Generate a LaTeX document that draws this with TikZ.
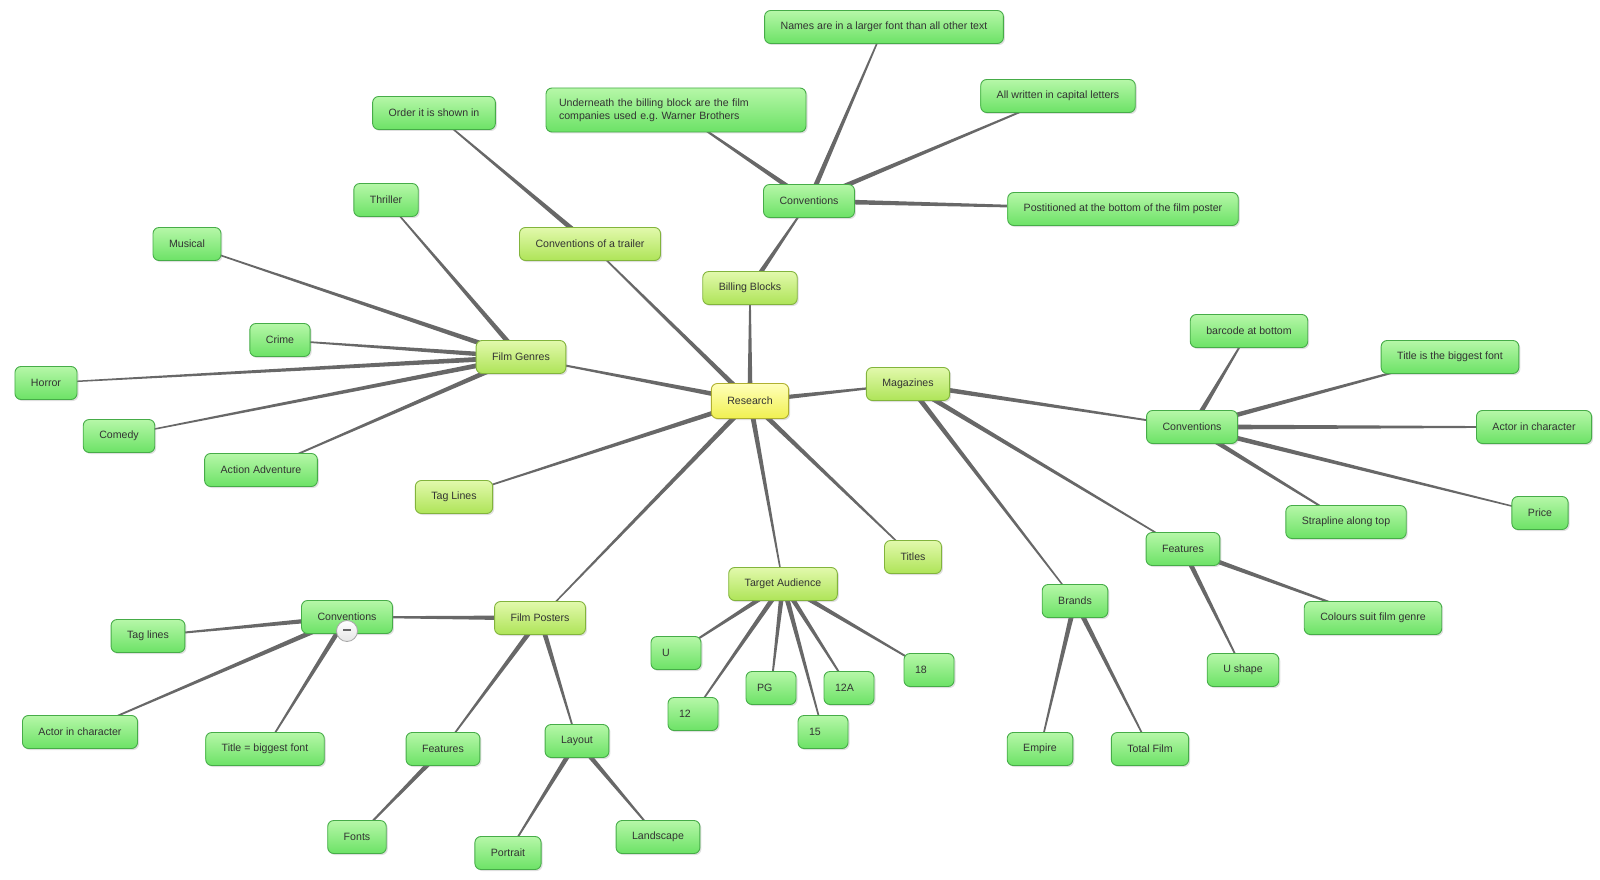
\documentclass[tikz,border=0pt]{standalone}
\usepackage{fontspec}
\setmainfont{Liberation Sans}
\usetikzlibrary{calc,shadows,backgrounds}

\definecolor{edgegray}{RGB}{104,104,104}
\definecolor{roottop}{RGB}{255,255,185}
\definecolor{rootbot}{RGB}{240,240,80}
\definecolor{rootline}{RGB}{176,176,48}
\definecolor{topictop}{RGB}{226,249,172}
\definecolor{topicbot}{RGB}{174,228,88}
\definecolor{topicline}{RGB}{130,180,60}
\definecolor{leaftop}{RGB}{182,247,168}
\definecolor{leafbot}{RGB}{108,226,102}
\definecolor{leafline}{RGB}{70,172,72}

\begin{document}
\begin{tikzpicture}[
  x=1pt, y=-1pt,
  every node/.style={font=\fontsize{10.6}{13}\selectfont, text=black!80},
  basebox/.style={rectangle, rounded corners=6pt, minimum height=33pt, inner xsep=16pt, inner ysep=2pt, line width=0.9pt,
    drop shadow={opacity=0.25, shadow xshift=1.5pt, shadow yshift=-1.5pt}},
  root/.style={basebox, minimum height=35pt, draw=rootline, top color=roottop, bottom color=rootbot},
  topic/.style={basebox, draw=topicline, top color=topictop, bottom color=topicbot},
  leaf/.style={basebox, draw=leafline, top color=leaftop, bottom color=leafbot},
  agebox/.style={leaf, inner xsep=11pt, text width=28pt, align=left},
  fold/.style={circle, draw=gray!70, line width=0.8pt, top color=white, bottom color=gray!20, minimum size=21pt, inner sep=0pt},
  branch/.style={fill=edgegray}
]
\useasboundingbox (0,0) rectangle (1600,880);

% Central topic
\node[root] (res) at (750,401) {Research};

% Main branches
\node[topic] (mag) at (908,384) {Magazines};
\node[topic] (genres) at (521,357) {Film Genres};
\node[topic] (billing) at (750,288) {Billing Blocks};
\node[topic] (trailer) at (590,244) {Conventions of a trailer};
\node[topic] (taglines) at (454,497) {Tag Lines};
\node[topic] (titles) at (913,557) {Titles};
\node[topic] (target) at (783,584) {Target Audience};
\node[topic] (posters) at (540,618) {Film Posters};

% Billing blocks
\node[leaf] (billconv) at (809,201) {Conventions};
\node[leaf] (names) at (884,27) {Names are in a larger font than all other text};
\node[leaf] (caps) at (1058,96) {All written in capital letters};
\node[leaf, text width=234pt, inner xsep=13pt, minimum height=44pt, align=left] (under) at (676,110)
  {Underneath the billing block are the film\\companies used e.g.\ Warner Brothers};
\node[leaf] (bottom) at (1123,209) {Postitioned at the bottom of the film poster};

% Trailer
\node[leaf] (order) at (434,113) {Order it is shown in};

% Film genres
\node[leaf] (thriller) at (386,200) {Thriller};
\node[leaf] (musical) at (187,244) {Musical};
\node[leaf] (crime) at (280,340) {Crime};
\node[leaf] (horror) at (46,383) {Horror};
\node[leaf] (comedy) at (119,436) {Comedy};
\node[leaf] (action) at (261,470) {Action Adventure};

% Magazines
\node[leaf] (magconv) at (1192,427) {Conventions};
\node[leaf] (barcode) at (1249,331) {barcode at bottom};
\node[leaf] (bigtitle) at (1450,357) {Title is the biggest font};
\node[leaf] (actorr) at (1534,427) {Actor in character};
\node[leaf] (price) at (1540,513) {Price};
\node[leaf] (strap) at (1346,522) {Strapline along top};
\node[leaf] (magfeat) at (1183,549) {Features};
\node[leaf] (colours) at (1373,618) {Colours suit film genre};
\node[leaf] (ushape) at (1243,670) {U shape};
\node[leaf] (brands) at (1075,601) {Brands};
\node[leaf] (empire) at (1040,749) {Empire};
\node[leaf] (total) at (1150,749) {Total Film};

% Target audience
\node[agebox] (ageu) at (676,653) {U};
\node[agebox] (age12) at (693,714) {12};
\node[agebox] (agepg) at (771,688) {PG};
\node[agebox] (age15) at (823,732) {15};
\node[agebox] (age12a) at (849,688) {12A};
\node[agebox] (age18) at (929,670) {18};

% Film posters
\node[leaf] (postconv) at (347,617) {Conventions};
\node[leaf] (taglinesl) at (148,636) {Tag lines};
\node[leaf] (actorl) at (80,732) {Actor in character};
\node[leaf] (titleeq) at (265,749) {Title = biggest font};
\node[leaf] (postfeat) at (443,749) {Features};
\node[leaf] (layout) at (577,741) {Layout};
\node[leaf] (fonts) at (357,837) {Fonts};
\node[leaf] (portrait) at (508,853) {Portrait};
\node[leaf] (landscape) at (658,837) {Landscape};

% Collapse button
\node[fold] (foldbtn) at (347,631) {\textcolor{gray!80!black}{\rule[2pt]{8pt}{2.2pt}}};

% Tapered branches
\begin{pgfonlayer}{background}
\foreach \a/\b in {res/mag, res/genres, res/billing, res/trailer, res/taglines, res/titles, res/target, res/posters,
    billing/billconv, billconv/names, billconv/caps, billconv/under, billconv/bottom,
    trailer/order,
    genres/thriller, genres/musical, genres/crime, genres/horror, genres/comedy, genres/action,
    mag/magconv, mag/magfeat, mag/brands,
    magconv/barcode, magconv/bigtitle, magconv/actorr, magconv/price, magconv/strap,
    magfeat/colours, magfeat/ushape, brands/empire, brands/total,
    target/ageu, target/age12, target/agepg, target/age15, target/age12a, target/age18,
    posters/postconv, posters/postfeat, posters/layout,
    postconv/taglinesl, postconv/actorl, postconv/titleeq,
    postfeat/fonts, layout/portrait, layout/landscape}
  \fill[branch] ($(\a)!2.6pt!90:(\b)$) -- ($(\b)!0.6pt!-90:(\a)$) -- ($(\b)!0.6pt!90:(\a)$) -- ($(\a)!2.6pt!-90:(\b)$) -- cycle;
\end{pgfonlayer}

\end{tikzpicture}
\end{document}
